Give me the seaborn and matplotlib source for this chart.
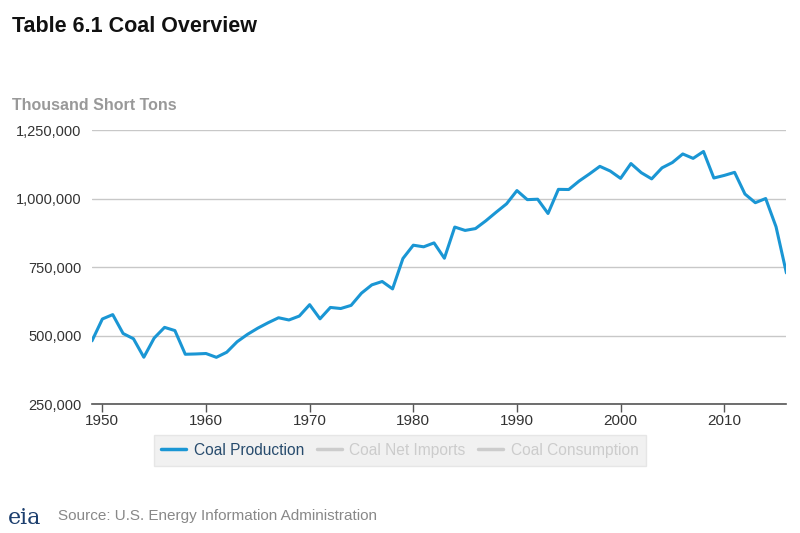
import seaborn as sns
import matplotlib.pyplot as plt
import pandas as pd
from matplotlib.lines import Line2D
from matplotlib.ticker import FuncFormatter

# Coal production, thousand short tons
years = list(range(1949, 2017))
production = [
    480570, 560388, 576335, 507424, 488239, 420789, 490838, 529774, 518042, 431617,
    432677, 434329, 420423, 439043, 477195, 504182, 526954, 546822, 564882, 556706,
    570978, 612661, 560919, 602492, 598568, 610023, 654641, 684913, 697205, 670164,
    781134, 829700, 823775, 838112, 782091, 895921, 883638, 890315, 918762, 950265,
    980729, 1029076, 995984, 997545, 945424, 1033504, 1032974, 1063856, 1089932, 1117535,
    1100431, 1073612, 1127689, 1094283, 1071753, 1112099, 1131498, 1162750, 1146635, 1171809,
    1074923, 1084368, 1095628, 1016458, 984842, 1000049, 896941, 728364,
]
series_names = ['Coal Production', 'Coal Net Imports', 'Coal Consumption']
y_ticks = [250000, 500000, 750000, 1000000, 1250000]
x_ticks = [1950, 1960, 1970, 1980, 1990, 2000, 2010]

df = pd.DataFrame({'year': years, 'value': production})

sns.set_style('white')
plt.rcParams['font.family'] = ['Liberation Sans', 'DejaVu Sans']

fig = plt.figure(figsize=(8, 5.33), dpi=100)
ax = fig.add_axes([0.115, 0.242, 0.868, 0.514])

blue = '#1a96d4'
sns.lineplot(data=df, x='year', y='value', color=blue, linewidth=2.2, ax=ax)

ax.set_xlim(1949, 2016)
ax.set_ylim(250000, 1250000)
ax.set_yticks(y_ticks)
ax.set_xticks(x_ticks)
ax.yaxis.set_major_formatter(FuncFormatter(lambda v, p: f'{int(v):,}'))
ax.grid(axis='y', color='#c8c8c8', linewidth=1)
ax.set_axisbelow(True)
for s in ['top', 'right', 'left']:
    ax.spines[s].set_visible(False)
ax.spines['bottom'].set_color('#555555')
ax.spines['bottom'].set_linewidth(1.2)
ax.tick_params(axis='x', bottom=True, length=6, width=1, color='#555555',
               labelsize=11, labelcolor='#333333', pad=1)
ax.tick_params(axis='y', left=False, labelsize=10.5, labelcolor='#333333', pad=4)
for lbl in ax.get_xticklabels():
    lbl.set_family(['Liberation Sans Narrow', 'Liberation Sans'])
ax.set_xlabel('')
ax.set_ylabel('')

# legend (only production shown, other series greyed out)
handles = [
    Line2D([], [], color=blue, linewidth=2.5),
    Line2D([], [], color='#cccccc', linewidth=2.5),
    Line2D([], [], color='#cccccc', linewidth=2.5),
]
leg = fig.legend(handles, series_names, loc='center', bbox_to_anchor=(0.5, 0.155),
                 ncol=3, frameon=True, fontsize=11.2, handlelength=1.6,
                 columnspacing=0.8, handletextpad=0.5, borderpad=0.5, fancybox=False)
leg.get_frame().set_facecolor('#eeeeee')
leg.get_frame().set_edgecolor('#e2e2e2')
for t, c in zip(leg.get_texts(), ['#274b6d', '#cccccc', '#cccccc']):
    t.set_color(c)

fig.text(0.015, 0.95, 'Table 6.1 Coal Overview', fontsize=15.5, fontweight='bold',
         color='#111111', va='center')
fig.text(0.015, 0.803, 'Thousand Short Tons', fontsize=11.5, fontweight='bold',
         color='#999999', va='center')
fig.text(0.072, 0.032, 'Source: U.S. Energy Information Administration', fontsize=11,
         color='#888888', va='center')
fig.text(0.01, 0.028, 'eia', fontsize=16, family='DejaVu Serif', color='#1d3f6e',
         va='center')

fig.savefig('out.png', dpi=100)
